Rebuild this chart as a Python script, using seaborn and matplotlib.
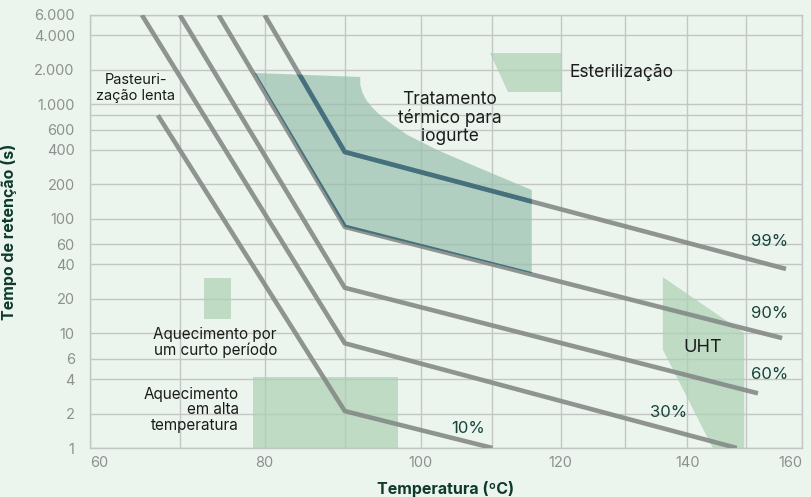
import numpy as np
import pandas as pd
import matplotlib
matplotlib.use("Agg")
import matplotlib.pyplot as plt
import seaborn as sns

# ---------------- data ----------------
curve_labels = ["10%", "30%", "60%", "90%", "99%"]
temp_10 = [67.5, 90, 110];    time_10 = [800, 2.1, 1.0]
temp_30 = [65.7, 90, 148.4];  time_30 = [6000, 8.2, 1.0]
temp_60 = [70.0, 90, 152.1];  time_60 = [6000, 25, 3.0]
temp_90 = [74.5, 90, 156.4];  time_90 = [6000, 85, 9.1]
temp_99 = [80.0, 90, 157.1];  time_99 = [6000, 383, 36.5]
curve_label_temp = [106.5, 137.0, 154.1, 154.1, 154.1]
curve_label_time = [1.49, 2.06, 4.4, 14.8, 64]

yog_temp = [78.8, 92.0, 92.0, 92.3, 92.8, 93.6, 94.6, 96.0, 98.2, 102.2, 107.8, 115.7, 115.7, 90.0]
yog_time = [1871, 1727, 1472, 1253, 1080, 930, 800, 680, 540, 400, 283, 178, 33.5, 85]
ster_temp = [109.6, 120.0, 120.0, 112.2]
ster_time = [2800, 2800, 1277, 1277]
short_temp = [72.8, 76.0, 76.0, 72.8]
short_time = [30.4, 30.4, 13.4, 13.4]
high_temp = [78.6, 97.0, 97.0, 78.6]
high_time = [4.16, 4.16, 1.0, 1.0]
uht_temp = [136.0, 149.7, 149.7, 144.3, 136.0]
uht_time = [31, 10.1, 1.0, 1.0, 7.2]

x_major = [60, 80, 100, 120, 140, 160]
x_minor = [70, 90, 110, 130, 150]
y_ticks = [1, 2, 4, 6, 10, 20, 40, 60, 100, 200, 400, 600, 1000, 2000, 4000, 6000]
y_ticklabels = ["1", "2", "4", "6", "10", "20", "40", "60", "100", "200", "400",
                "600", "1.000", "2.000", "4.000", "6.000"]
y_minor = [800]

# ---------------- style ----------------
BG = "#ebf5ed"
GRID = "#c3c6c4"
LINE = "#858a87"
TEAL = "#45717f"
LIGHT = "#aed1b5"
YOG = "#97bfad"
TEXT = "#1b1b1b"
PCT = "#16443c"
AXLAB = "#0e3b2e"
TICK = "#8f8f8f"

sns.set_theme(style="white")
plt.rcParams["font.family"] = ["Inter", "DejaVu Sans"]

fig = plt.figure(figsize=(8.11, 4.97), dpi=100, facecolor=BG)
ax = fig.add_axes([90 / 811, 1 - 448 / 497, 712 / 811, 433 / 497])
ax.set_facecolor(BG)

def fwd(t):
    t = np.asarray(t, dtype=float)
    return -1.0 / (t + 273.15)

def inv(v):
    v = np.asarray(v, dtype=float)
    return -1.0 / v - 273.15

ax.set_xscale("function", functions=(fwd, inv))
ax.set_yscale("log")
ax.set_xlim(60, 160)
ax.set_ylim(1, 6000)

# regions (below the lines)
for tx, ty in [(ster_temp, ster_time), (short_temp, short_time),
               (high_temp, high_time), (uht_temp, uht_time)]:
    ax.fill(tx, ty, color=LIGHT, alpha=0.72, lw=0, zorder=2)
yog_patch = ax.fill(yog_temp, yog_time, color=YOG, alpha=0.7, lw=0, zorder=2)[0]

# lines
rows = []
for lab, tt, tm in zip(curve_labels,
                       [temp_10, temp_30, temp_60, temp_90, temp_99],
                       [time_10, time_30, time_60, time_90, time_99]):
    for a, b in zip(tt, tm):
        rows.append({"curve": lab, "temp": a, "time": b})
df = pd.DataFrame(rows)

n0 = len(ax.lines)
sns.lineplot(data=df, x="temp", y="time", hue="curve", units="curve",
             estimator=None, sort=False, palette=[LINE] * 5, legend=False,
             linewidth=3.3, ax=ax, zorder=3)
for ln in ax.lines[n0:]:
    ln.set_solid_capstyle("butt")
    ln.set_alpha(0.9)

n1 = len(ax.lines)
sns.lineplot(data=df, x="temp", y="time", hue="curve", units="curve",
             estimator=None, sort=False, palette=[TEAL] * 5, legend=False,
             linewidth=3.3, ax=ax, zorder=4)
for ln in ax.lines[n1:]:
    ln.set_solid_capstyle("butt")
    ln.set_clip_path(yog_patch)

# grid & ticks
ax.set_xticks(x_major)
ax.set_xticks(x_minor, minor=True)
ax.set_xticklabels([str(v) for v in x_major])
ax.set_yticks(y_ticks)
ax.set_yticklabels(y_ticklabels)
ax.set_yticks(y_minor, minor=True)
ax.yaxis.set_minor_formatter(matplotlib.ticker.NullFormatter())
ax.grid(True, which="both", color=GRID, lw=1.0, zorder=0)
ax.set_axisbelow(True)
ax.tick_params(axis="both", which="both", length=0, labelsize=10.5, labelcolor=TICK)
ax.tick_params(axis="y", pad=11)
ax.tick_params(axis="x", pad=6)
xl = ax.get_xticklabels()
xl[0].set_ha("left")
xl[-1].set_ha("right")
for s in ax.spines.values():
    s.set_color(GRID)
    s.set_linewidth(1.0)

ax.set_xlabel("Temperatura (ºC)", fontsize=11.5, fontweight="bold", color=AXLAB, labelpad=8)
ax.set_ylabel("Tempo de retenção (s)", fontsize=11.5, fontweight="bold", color=AXLAB, labelpad=12)

# annotations
for lab, tx, ty in zip(curve_labels, curve_label_temp, curve_label_time):
    ax.text(tx, ty, lab, ha="center", va="center", fontsize=12, color=PCT, zorder=6)

ax.text(65.0, 1385, "Pasteuri-\nzação lenta", ha="center", va="center",
        fontsize=10.5, color=TEXT, linespacing=1.1, zorder=6)
ax.text(104.0, 758, "Tratamento\ntérmico para\niogurte", ha="center", va="center",
        fontsize=12.5, color=TEXT, linespacing=1.1, zorder=6)
ax.text(121.4, 1871, "Esterilização", ha="left", va="center",
        fontsize=12.5, color=TEXT, zorder=6)
ax.text(74.1, 8.4, "Aquecimento por\num curto período", ha="center", va="center",
        fontsize=11, color=TEXT, linespacing=1.05, zorder=6)
ax.text(76.9, 2.15, "Aquecimento\nem alta\ntemperatura", ha="right", va="center",
        fontsize=11, color=TEXT, linespacing=1.05, zorder=6)
ax.text(142.6, 7.6, "UHT", ha="center", va="center", fontsize=13, color=TEXT, zorder=6)

fig.savefig("out.png", dpi=100, facecolor=BG)
